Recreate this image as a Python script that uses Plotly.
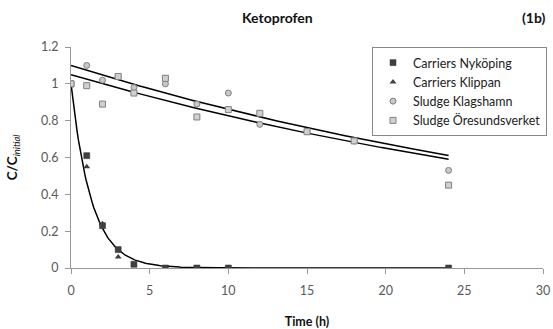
import numpy as np
import plotly.graph_objects as go

# Data
t_nyk = [0, 1, 2, 3, 4, 6, 8, 10, 24]
c_nyk = [1.0, 0.61, 0.23, 0.10, 0.02, 0.0, 0.0, 0.0, 0.0]
t_klip = [0, 1, 2, 3, 4, 6]
c_klip = [1.0, 0.55, 0.24, 0.06, 0.02, 0.0]
t_klag = [1, 2, 3, 4, 6, 8, 10, 12, 15, 18, 24]
c_klag = [1.10, 1.02, 1.04, 0.98, 1.00, 0.89, 0.95, 0.78, 0.74, 0.69, 0.53]
t_ore = [0, 1, 2, 3, 4, 6, 8, 10, 12, 15, 18, 24]
c_ore = [1.0, 0.99, 0.89, 1.04, 0.95, 1.03, 0.82, 0.86, 0.84, 0.74, 0.69, 0.45]

# Trend line parameters (exponential fits): C = a * exp(-k t)
fit_carriers = (1.0, 0.77)
fit_klag = (1.10, 0.0245)
fit_ore = (1.05, 0.024)

fig = go.Figure()

tt = np.linspace(0, 24, 300)
for a, k in [fit_klag, fit_ore, fit_carriers]:
    fig.add_trace(go.Scatter(x=tt, y=a * np.exp(-k * tt), mode="lines",
                             line=dict(color="black", width=1.5), showlegend=False,
                             hoverinfo="skip"))

fig.add_trace(go.Scatter(x=t_nyk, y=c_nyk, mode="markers", name="Carriers Nyköping",
                         marker=dict(symbol="square", size=6, color="#404040",
                                     line=dict(color="#303030", width=0.5))))
fig.add_trace(go.Scatter(x=t_klip, y=c_klip, mode="markers", name="Carriers Klippan",
                         marker=dict(symbol="triangle-up", size=6, color="#404040")))
fig.add_trace(go.Scatter(x=t_klag, y=c_klag, mode="markers", name="Sludge Klagshamn",
                         marker=dict(symbol="circle", size=6, color="#c8c8c8",
                                     line=dict(color="#808080", width=1))))
fig.add_trace(go.Scatter(x=t_ore, y=c_ore, mode="markers", name="Sludge Öresundsverket",
                         marker=dict(symbol="square", size=6, color="#d0d0d0",
                                     line=dict(color="#808080", width=1))))

W, H = 553, 329
L, R, T, B = 71, 10, 47, 61
pw, ph = W - L - R, H - T - B

tickfont = dict(size=12.5, color="#595959")

fig.update_layout(
    width=W, height=H,
    margin=dict(l=L, r=R, t=T, b=B, autoexpand=False),
    paper_bgcolor="white", plot_bgcolor="white",
    font=dict(family="Lato, Open Sans, sans-serif", size=12, color="#111"),
    showlegend=True,
    legend=dict(x=(372 - L) / pw, y=1.0, xanchor="left", yanchor="top",
                bordercolor="#888", borderwidth=1, bgcolor="white",
                font=dict(size=12.5, color="#222"), tracegroupgap=0, itemwidth=30,
                itemsizing="trace"),
    xaxis=dict(range=[0, 30], tickvals=[0, 5, 10, 15, 20, 25, 30],
               showline=True, linecolor="#999", linewidth=1, ticks="outside",
               ticklen=5, tickcolor="#999", showgrid=False, zeroline=False,
               automargin=False, tickfont=tickfont, ticklabelstandoff=6,
               title=dict(text="<b>Time (h)</b>", font=dict(size=12.5), standoff=20)),
    yaxis=dict(range=[0, 1.2], tickvals=[0, 0.2, 0.4, 0.6, 0.8, 1.0, 1.2],
               ticktext=["0", "0.2", "0.4", "0.6", "0.8", "1", "1.2"],
               showline=True, linecolor="#999", linewidth=1, ticks="outside",
               ticklen=5, tickcolor="#999", showgrid=False, zeroline=False,
               automargin=False, tickfont=tickfont, ticklabelstandoff=4,
               title=dict(text="<b>C/C</b><sub><i>initial</i></sub>", font=dict(size=13.5), standoff=20)),
    annotations=[
        dict(text="<b>Ketoprofen</b>", x=(277 - L) / pw, y=1 + (T - 17) / ph,
             xref="paper", yref="paper", xanchor="center", yanchor="middle",
             showarrow=False, font=dict(size=14)),
        dict(text="<b>(1b)</b>", x=(548 - L) / pw, y=1 + (T - 17) / ph,
             xref="paper", yref="paper", xanchor="right", yanchor="middle",
             showarrow=False, font=dict(size=14)),
    ],
)

fig.write_html("out.html", config={"displayModeBar": False},
               post_script="document.body.style.margin='0';")
